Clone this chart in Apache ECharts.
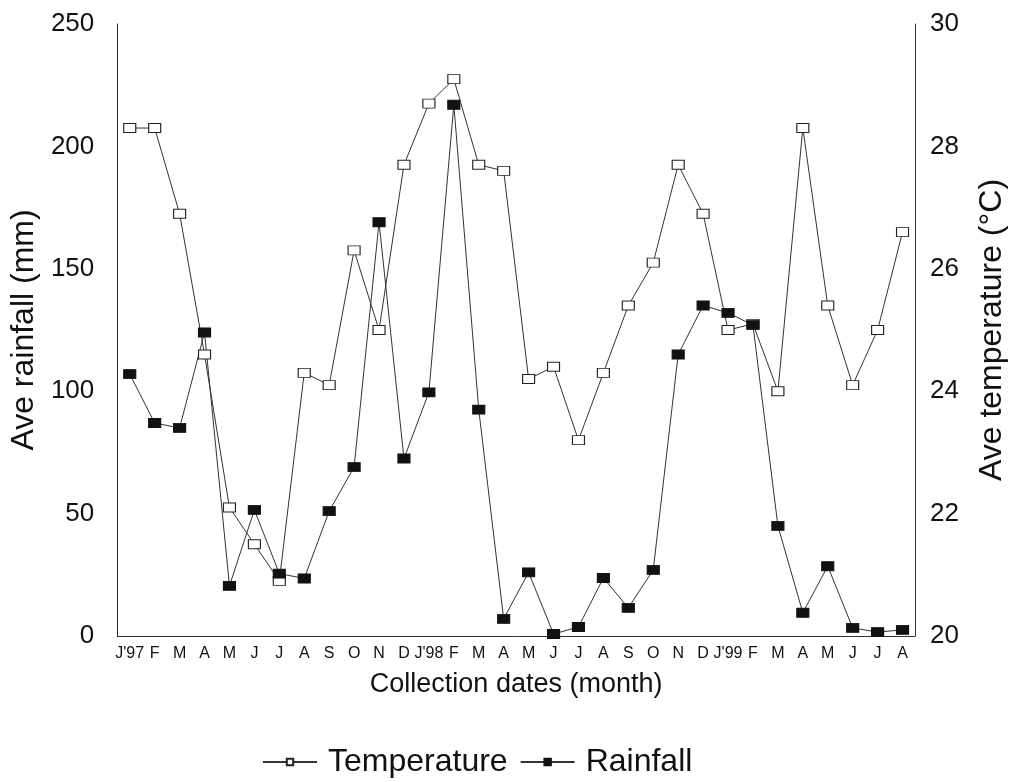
<!DOCTYPE html>
<html>
<head>
<meta charset="utf-8">
<script src="https://cdn.jsdelivr.net/npm/echarts@6/dist/echarts.min.js"></script>
<style>
html,body{margin:0;padding:0;background:#fff;}
#chart{width:1016px;height:782px;}
</style>
</head>
<body>
<div id="chart"></div>
<script>
const categories = ["J'97","F","M","A","M","J","J","A","S","O","N","D","J'98","F","M","A","M","J","J","A","S","O","N","D","J'99","F","M","A","M","J","J","A"];
const rainfall = [107,87,85,124,20.5,51.5,25.5,23.5,51,69,169,72.5,99.5,217,92.5,7,26,0.8,3.7,23.7,11.5,27,115,135,132,127,45,9.5,28.5,3.3,1.6,2.5];
const temperature = [28.3,28.3,26.9,24.6,22.1,21.5,20.9,24.3,24.1,26.3,25.0,27.7,28.7,29.1,27.7,27.6,24.2,24.4,23.2,24.3,25.4,26.1,27.7,26.9,25.0,25.1,24.0,28.3,25.4,24.1,25.0,26.6];
const rainTicks = [0,50,100,150,200,250];
const tempTicks = [20,22,24,26,28,30];

const font = 'Liberation Sans, Arial, sans-serif';
const chart = echarts.init(document.getElementById('chart'));
chart.setOption({
  animation: false,
  backgroundColor: '#fff',
  textStyle: {fontFamily: font, color: '#111'},
  grid: {left: 114, right: 98, top: 24, bottom: 146},
  legend: {
    top: 741, left: 257,
    itemWidth: 54, itemHeight: 8, itemGap: 12,
    textStyle: {fontSize: 32, color: '#111', fontFamily: font, padding: [0, 0, 0, 6]},
    data: ['Temperature', 'Rainfall']
  },
  xAxis: {
    type: 'category', data: categories, boundaryGap: true,
    axisLine: {lineStyle: {color: '#333', width: 1}},
    axisTick: {alignWithLabel: true, length: 8, lineStyle: {color: '#333'}},
    axisLabel: {fontSize: 16, color: '#111', margin: 10, interval: 0, fontFamily: font},
    name: 'Collection dates (month)', nameLocation: 'middle', nameGap: 35,
    nameTextStyle: {fontSize: 27, color: '#111', fontFamily: font}
  },
  yAxis: [{
    type: 'value', min: 0, max: 250, interval: 50, position: 'left',
    axisLine: {show: true, lineStyle: {color: '#333'}},
    axisTick: {show: false}, splitLine: {show: false},
    axisLabel: {fontSize: 26, color: '#111', margin: 23, fontFamily: font},
    name: 'Ave rainfall (mm)', nameLocation: 'middle', nameGap: 75,
    nameTextStyle: {fontSize: 32, color: '#111', fontFamily: font}
  }, {
    type: 'value', min: 20, max: 30, interval: 2, position: 'right',
    axisLine: {show: true, lineStyle: {color: '#333'}},
    axisTick: {show: false}, splitLine: {show: false},
    axisLabel: {fontSize: 26, color: '#111', margin: 15, fontFamily: font},
    name: 'Ave temperature (°C)', nameLocation: 'middle', nameGap: 61,
    nameTextStyle: {fontSize: 32, color: '#111', fontFamily: font}
  }],
  series: [{
    name: 'Temperature', type: 'line', yAxisIndex: 1, data: temperature,
    symbol: 'rect', symbolSize: [12, 9],
    lineStyle: {color: '#333', width: 1},
    itemStyle: {color: '#fff', borderColor: '#222', borderWidth: 1}
  }, {
    name: 'Rainfall', type: 'line', yAxisIndex: 0, data: rainfall,
    symbol: 'rect', symbolSize: [12, 9],
    lineStyle: {color: '#333', width: 1},
    itemStyle: {color: '#111', borderColor: '#111', borderWidth: 1}
  }]
});
</script>
</body>
</html>
